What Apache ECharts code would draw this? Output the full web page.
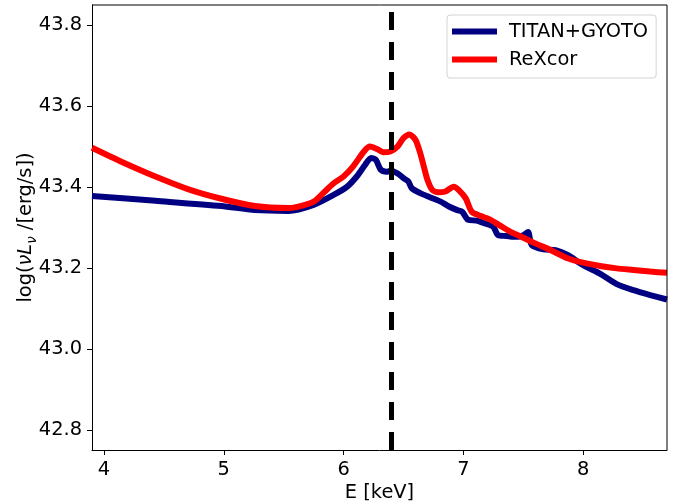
<!DOCTYPE html>
<html>
<head>
<meta charset="utf-8">
<script src="https://cdn.jsdelivr.net/npm/echarts@6/dist/echarts.min.js"></script>
<style>
  html, body { margin: 0; padding: 0; background: #fff; }
  #chart { width: 688px; height: 504px; }
</style>
</head>
<body>
<div id="chart"></div>
<script>
// Energy grid (keV) and log luminosity for each model
const titanE = [3.9, 4.43, 4.98, 5.26, 5.54, 5.75, 5.92, 6.03, 6.11, 6.18, 6.23, 6.27, 6.31, 6.36, 6.39,
  6.45, 6.50, 6.54, 6.57, 6.64, 6.72, 6.81, 6.88, 6.95, 6.99, 7.04, 7.11, 7.18, 7.25, 7.29, 7.36, 7.42,
  7.46, 7.50, 7.54, 7.57, 7.67, 7.77, 7.87, 8.00, 8.14, 8.28, 8.42, 8.56, 8.70];
const titanL = [43.378, 43.366, 43.353, 43.343, 43.341, 43.356, 43.381, 43.401, 43.426, 43.455, 43.472,
  43.467, 43.443, 43.438, 43.440, 43.434, 43.422, 43.414, 43.397, 43.385, 43.375, 43.364, 43.352, 43.343,
  43.339, 43.319, 43.317, 43.310, 43.302, 43.281, 43.279, 43.277, 43.277, 43.281, 43.289, 43.257, 43.246,
  43.244, 43.232, 43.207, 43.186, 43.160, 43.145, 43.133, 43.122];

const rexE = [3.9, 4.15, 4.43, 4.70, 4.98, 5.26, 5.54, 5.64, 5.75, 5.83, 5.92, 6.00, 6.08, 6.17, 6.22,
  6.28, 6.33, 6.39, 6.45, 6.50, 6.55, 6.60, 6.64, 6.67, 6.70, 6.74, 6.79, 6.85, 6.92, 6.96, 7.02, 7.07,
  7.14, 7.22, 7.31, 7.39, 7.47, 7.59, 7.73, 7.87, 8.00, 8.14, 8.28, 8.42, 8.56, 8.70];
const rexL = [43.497, 43.462, 43.426, 43.395, 43.371, 43.353, 43.348, 43.353, 43.364, 43.385, 43.410,
  43.426, 43.451, 43.488, 43.500, 43.494, 43.486, 43.488, 43.500, 43.521, 43.530, 43.517, 43.484, 43.451,
  43.418, 43.393, 43.387, 43.389, 43.401, 43.393, 43.372, 43.339, 43.329, 43.320, 43.304, 43.290, 43.279,
  43.262, 43.244, 43.224, 43.213, 43.205, 43.199, 43.195, 43.191, 43.188];

// Fe K-alpha line energy marker
const lineEnergy = 6.4;

const xTicks = [4, 5, 6, 7, 8];
const yTicks = [42.8, 43.0, 43.2, 43.4, 43.6, 43.8];
const xRange = [3.9, 8.7];
const yRange = [42.75, 43.85];

const seriesNames = ['TITAN+GYOTO', 'ReXcor'];

const zip = (a, b) => a.map((v, i) => [v, b[i]]);

const FONT = 'DejaVu Sans';
const FS = 19.4;
const chart = echarts.init(document.getElementById('chart'), null, { renderer: 'canvas' });

chart.setOption({
  animation: false,
  backgroundColor: '#fff',
  textStyle: { fontFamily: FONT },
  grid: { left: 92, right: 21, top: 5, bottom: 54, containLabel: false, outerBoundsMode: 'none' },
  legend: {
    data: seriesNames,
    orient: 'vertical',
    left: 447,
    top: 15,
    icon: 'rect',
    itemWidth: 45,
    itemHeight: 6,
    itemGap: 7,
    padding: [6, 8, 8, 5],
    backgroundColor: 'rgba(255,255,255,0.8)',
    borderColor: '#d3d3d3',
    borderWidth: 1,
    borderRadius: 3,
    textStyle: { fontFamily: FONT, fontSize: FS, color: '#000', lineHeight: 21, padding: [0, 0, 0, 7] }
  },
  xAxis: {
    type: 'value',
    min: xRange[0],
    max: xRange[1],
    name: 'E [keV]',
    nameLocation: 'middle',
    nameGap: 26,
    nameTextStyle: { fontFamily: FONT, fontSize: FS, color: '#000' },
    splitLine: { show: false },
    axisLine: { onZero: false, lineStyle: { color: '#000', width: 1 } },
    axisTick: { show: true, length: 5, customValues: xTicks, lineStyle: { color: '#000' } },
    axisLabel: {
      customValues: xTicks,
      margin: 10,
      fontFamily: FONT, fontSize: FS, color: '#000',
      formatter: v => String(Math.round(v))
    }
  },
  yAxis: {
    type: 'value',
    min: yRange[0],
    max: yRange[1],
    name: '{n|log(}{i|νL}{s|ν}{n| /[erg/s])}',
    nameLocation: 'middle',
    nameRotate: 90,
    nameGap: 53,
    nameMoveOverlap: false,
    nameTextStyle: {
      color: '#000',
      rich: {
        n: { fontFamily: FONT, fontSize: FS, lineHeight: 26, verticalAlign: 'middle', color: '#000' },
        i: { fontFamily: FONT, fontSize: FS, fontStyle: 'italic', lineHeight: 26, verticalAlign: 'middle', color: '#000' },
        s: { fontFamily: FONT, fontSize: 13.5, fontStyle: 'italic', lineHeight: 13, verticalAlign: 'bottom', color: '#000' }
      }
    },
    splitLine: { show: false },
    axisLine: { show: true, onZero: false, lineStyle: { color: '#000', width: 1 } },
    axisTick: { show: true, length: 5, customValues: yTicks, lineStyle: { color: '#000' } },
    axisLabel: {
      customValues: yTicks,
      margin: 10,
      fontFamily: FONT, fontSize: FS, color: '#000',
      formatter: v => v.toFixed(1)
    }
  },
  series: [
    {
      name: seriesNames[0],
      type: 'line',
      data: zip(titanE, titanL),
      showSymbol: false,
      smooth: 0.25,
      color: '#000080',
      lineStyle: { color: '#000080', width: 6 },
      z: 2
    },
    {
      name: seriesNames[1],
      type: 'line',
      data: zip(rexE, rexL),
      showSymbol: false,
      smooth: 0.25,
      color: '#ff0000',
      lineStyle: { color: '#ff0000', width: 6 },
      z: 3
    },
    {
      name: 'marker',
      type: 'line',
      data: [[lineEnergy, yRange[0]], [lineEnergy, yRange[1]]],
      showSymbol: false,
      silent: true,
      lineStyle: { color: '#000', width: 5, type: [18, 12] },
      z: 4
    },
    // frame on top and right edges of the plot
    {
      name: 'frame',
      type: 'line',
      data: [[xRange[0], yRange[1]], [xRange[1], yRange[1]], [xRange[1], yRange[0]]],
      showSymbol: false,
      silent: true,
      clip: false,
      lineStyle: { color: '#000', width: 1 },
      z: 5
    }
  ]
});
</script>
</body>
</html>
